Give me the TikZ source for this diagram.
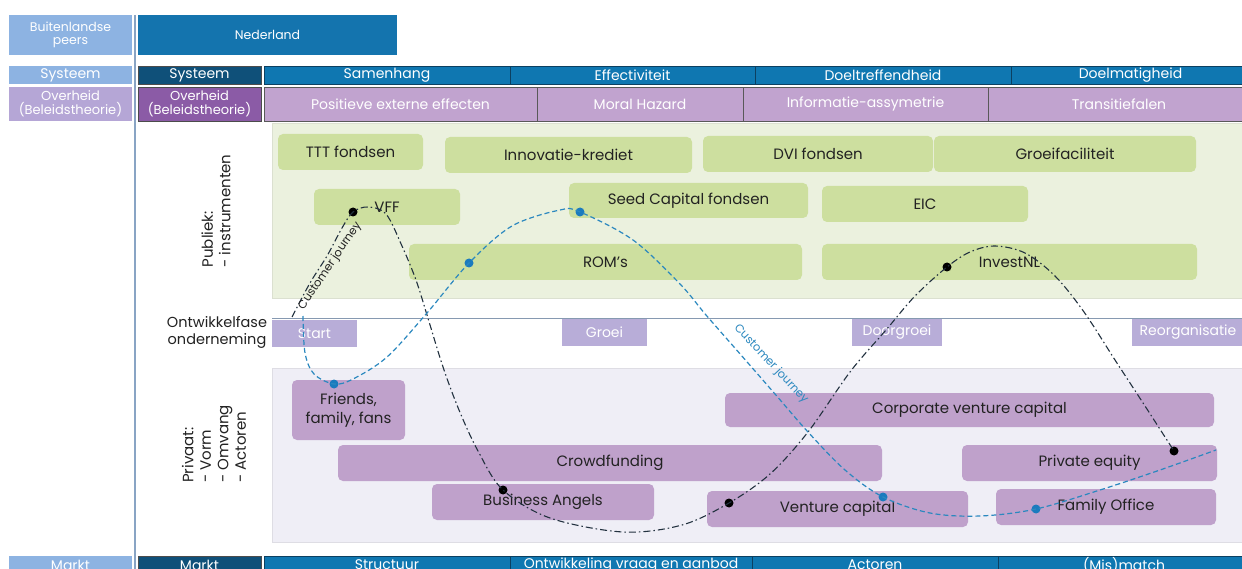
\documentclass[tikz,border=0pt]{standalone}
\usepackage{fontspec}
\setmainfont{Poppins}
\definecolor{lblue}{HTML}{8DB3E2}
\definecolor{nblue}{HTML}{1474AE}
\definecolor{dblue}{HTML}{0F5079}
\definecolor{bbar}{HTML}{0F77B1}
\definecolor{lpur}{HTML}{B5A6D6}
\definecolor{dpur}{HTML}{8B5BA6}
\definecolor{ppur}{HTML}{C1A3CF}
\definecolor{lav}{HTML}{B8ADD8}
\definecolor{grnbg}{HTML}{EBF1DE}
\definecolor{grnbx}{HTML}{CDDF9F}
\definecolor{pribg}{HTML}{EFEEF6}
\definecolor{pribx}{HTML}{BFA1CB}
\definecolor{txt}{HTML}{222222}
\definecolor{cjb}{HTML}{22313F}
\definecolor{cjblue}{HTML}{2B88BF}
\definecolor{dotblue}{HTML}{1B7BBE}
\newcommand{\bx}[7]{\node[#6, minimum width={(#4-#2)*1pt}, minimum height={(#5-#3)*1pt}] (#1) at ({(#2+#4)/2},{(#3+#5)/2}) {#7};}
\tikzset{
  hdrtxt/.style={text=white, font=\fontsize{12.5}{13.5}\selectfont, align=center},
  bartxt/.style={text=white, font=\fontsize{14}{15}\selectfont, align=center},
  lbluebox/.style={fill=lblue, hdrtxt},
  nbluebox/.style={fill=nblue, hdrtxt},
  dbluebox/.style={fill=dblue, draw=black!70, line width=0.6pt, bartxt},
  barbox/.style={fill=bbar, draw=dblue!80!black, line width=0.6pt, bartxt},
  lpurbox/.style={fill=lpur, hdrtxt, font=\fontsize{13}{13.5}\selectfont},
  dpurbox/.style={fill=dpur, draw=black!70, line width=0.6pt, hdrtxt, font=\fontsize{13}{13.5}\selectfont},
  ppurbox/.style={fill=ppur, draw=black!65, line width=0.6pt, bartxt},
  region/.style={line width=0.5pt},
  gbox/.style={fill=grnbx, rounded corners=5pt, text=txt, font=\fontsize{15}{17}\selectfont},
  pbox/.style={fill=pribx, rounded corners=5pt, text=txt, font=\fontsize{15}{19}\selectfont, align=center},
  phasebox/.style={fill=lav, text=white, font=\fontsize{14}{16}\selectfont},
  sidelbl/.style={text=txt, font=\fontsize{15}{17.5}\selectfont},
  bdot/.style={circle, fill=black, minimum size=9pt, inner sep=0pt},
  udot/.style={circle, fill=dotblue, minimum size=9pt, inner sep=0pt},
  cjline/.style={cjb, line width=1.1pt, dash pattern=on 7pt off 3pt on 1.5pt off 3pt},
  cjbline/.style={cjblue, line width=1.2pt, dash pattern=on 5pt off 3pt},
}
\begin{document}
\begin{tikzpicture}[x=1pt, y=-1pt, every node/.style={inner sep=0pt, outer sep=0pt}]
\useasboundingbox (0,0) rectangle (1242,569);
\clip (0,0) rectangle (1242,569);
\fill[white] (0,0) rectangle (1242,569);

% header
\bx{peers}{9}{15}{132}{55}{lbluebox}{Buitenlandse\\peers}
\bx{ned}{138}{15}{397}{55}{nbluebox}{Nederland}

\bx{sysL}{9}{66}{132}{84}{lbluebox, font=\fontsize{14}{15}\selectfont}{Systeem}
\bx{sysD}{138}{66}{261}{84}{dbluebox}{Systeem}
\bx{samen}{264}{66}{510}{84}{barbox}{Samenhang}
\bx{effec}{510}{66}{755}{84}{barbox}{Effectiviteit}
\bx{doeltr}{755}{66}{1011}{84}{barbox}{Doeltreffendheid}
\bx{doelm}{1011}{66}{1250}{84}{barbox}{Doelmatigheid}

\bx{ovhL}{9}{87}{132}{121}{lpurbox}{Overheid\\(Beleidstheorie)}
\bx{ovhD}{138}{87}{261}{121}{dpurbox}{Overheid\\(Beleidstheorie)}
\bx{posext}{264}{87}{537}{121}{ppurbox}{Positieve externe effecten}
\bx{moral}{537}{87}{743}{121}{ppurbox}{Moral Hazard}
\bx{infasy}{743}{87}{988}{121}{ppurbox}{Informatie-assymetrie}
\bx{trans}{988}{87}{1250}{121}{ppurbox}{Transitiefalen}

% left separator line
\draw[color=lblue!70!gray, line width=2pt] (135,15) -- (135,575);

% regions
\bx{pubreg}{272}{123}{1250}{298}{fill=grnbg, draw=grnbg!85!gray, region}{}
\bx{prireg}{272}{368}{1250}{542}{fill=pribg, draw=pribg!85!gray, region}{}

% side labels
\node[sidelbl, rotate=90, align=left] (publbl) at (216,211) {Publiek:\\- instrumenten};
\node[sidelbl, align=center, font=\fontsize{14.5}{17}\selectfont] (ontlbl) at (217,332) {Ontwikkelfase\\onderneming};
\node[sidelbl, rotate=90, align=left] (prilbl) at (214,444) {Privaat:\\- Vorm\\- Omvang\\- Actoren};

% public instruments
\bx{ttt}{278}{134}{423}{170}{gbox}{TTT fondsen}
\bx{innov}{445}{137}{692}{173}{gbox}{Innovatie-krediet}
\bx{dvi}{703}{136}{933}{172}{gbox}{DVI fondsen}
\bx{groeif}{934}{136}{1196}{172}{gbox}{Groeifaciliteit}
\bx{vff}{314}{189}{460}{225}{gbox}{VFF}
\bx{seed}{569}{183}{808}{218}{gbox}{Seed Capital fondsen}
\bx{eic}{822}{186}{1028}{222}{gbox}{EIC}
\bx{rom}{409}{244}{802}{280}{gbox}{ROM’s}
\bx{invest}{822}{244}{1197}{280}{gbox}{InvestNL}

% phase line and boxes
\coordinate (phL) at (272,318);
\coordinate (phR) at (1250,318);
\draw[color=lblue!50!gray, line width=1pt] (phL) -- (phR);
\bx{start}{272}{320}{357}{347}{phasebox}{Start}
\bx{groei}{562}{319}{647}{346}{phasebox}{Groei}
\bx{doorg}{852}{319}{942}{346}{phasebox}{Doorgroei}
\bx{reorg}{1132}{319}{1250}{346}{phasebox}{\hspace*{-6pt}Reorganisatie}

% private actors
\bx{fff}{292}{380}{405}{440}{pbox}{Friends,\\family, fans}
\bx{cvc}{725}{393}{1214}{427}{pbox}{Corporate venture capital}
\bx{crowd}{338}{445}{882}{481}{pbox}{Crowdfunding}
\bx{pe}{962}{445}{1217}{481}{pbox}{Private equity}
\bx{ba}{432}{484}{654}{520}{pbox}{Business Angels}
\bx{vc}{707}{491}{968}{527}{pbox}{Venture capital}
\bx{fo}{996}{489}{1216}{525}{pbox}{Family Office}

% bottom row
\bx{mktL}{9}{556}{132}{574}{lbluebox, font=\fontsize{14}{15}\selectfont}{Markt}
\bx{mktD}{138}{556}{261}{574}{dbluebox}{Markt}
\bx{struc}{264}{556}{510}{574}{barbox}{Structuur}
\bx{ontw}{510}{556}{752}{574}{barbox}{Ontwikkeling vraag en aanbod}
\bx{act}{752}{556}{998}{574}{barbox}{Actoren}
\bx{mism}{998}{556}{1250}{574}{barbox}{(Mis)match}

% dots
\node[bdot] (k1) at (353,212) {};
\node[bdot] (k2) at (503,490) {};
\node[bdot] (k3) at (729,503) {};
\node[bdot] (k4) at (947,267) {};
\node[bdot] (k5) at (1174,451) {};
\node[udot] (u1) at (334,384) {};
\node[udot] (u2) at (469,263) {};
\node[udot] (u3) at (580,212) {};
\node[udot] (u4) at (883,497) {};
\node[udot] (u5) at (1036,509) {};
\coordinate (kS) at (292,317);
\coordinate (uS) at (303,316);
\coordinate (uE) at (1216,450);

% black customer journey
\draw[cjline] plot[smooth, tension=0.55] coordinates {(kS) (310,283) (327,256) (342,228) (k1) (368,207) (386,214) (402,246) (416,280) (427,315) (443,367) (459,410) (478,451) (k2) (550,518) (623,532) (682,525) (k3) (770,474) (808,432) (850,372) (886,330) (915,296) (k4) (970,252) (995,246) (1025,253) (1055,276) (1084,312) (1115,360) (1145,406) (k5)};

% blue customer journey
\draw[cjbline] plot[smooth, tension=0.55] coordinates {(uS) (305,353) (314,374) (u1) (353,379) (387,357) (427,313) (u2) (512,226) (560,210) (u3) (633,240) (680,284) (706,315) (741,355) (775,394) (808,432) (845,470) (u4) (930,513) (980,516) (u5) (1100,490) (1160,470) (uE)};

% labels on curves
\node[font=\fontsize{11.5}{13}\selectfont, text=txt, rotate=56] (cjlbl1) at (330,266) {Customer journey};
\node[font=\fontsize{11.5}{13}\selectfont, text=cjblue, rotate=-47] (cjlbl2) at (771,364) {Customer journey};
\end{tikzpicture}
\end{document}
